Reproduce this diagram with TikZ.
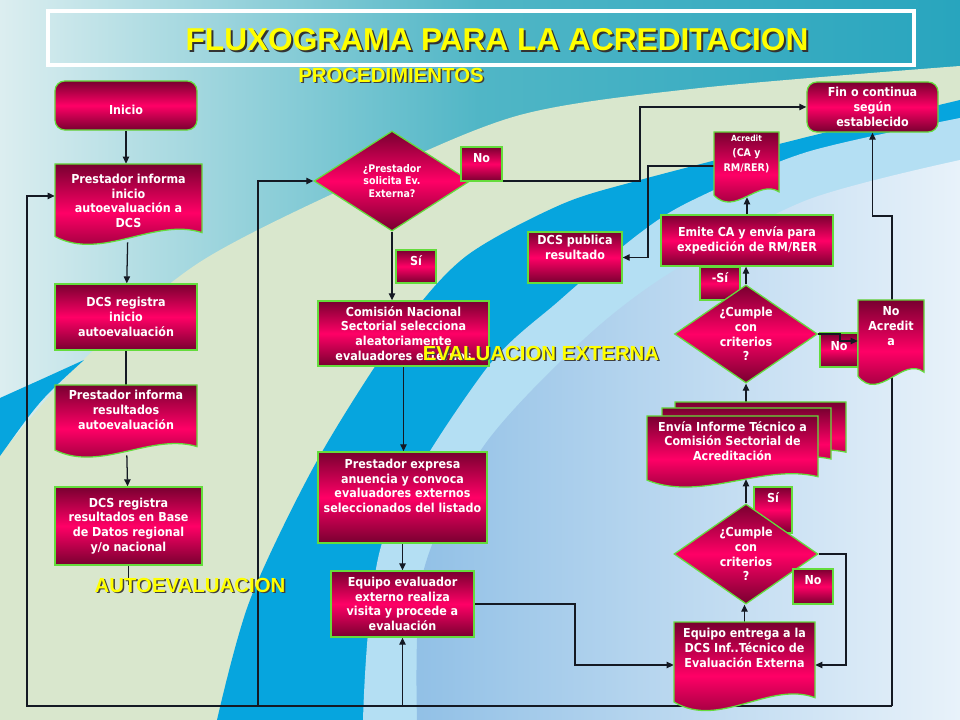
\documentclass[tikz,border=0pt]{standalone}
\usepackage{fontspec}
\setmainfont{DejaVu Sans Condensed}
\newfontfamily\headfamily{Liberation Sans}
\usetikzlibrary{shapes.geometric,arrows.meta,calc}

\definecolor{boxdark}{RGB}{120,0,48}
\definecolor{boxpink}{RGB}{255,0,102}
\definecolor{boxline}{RGB}{100,220,60}
\definecolor{linecol}{RGB}{20,25,35}
\definecolor{ttlyellow}{RGB}{255,255,0}
\definecolor{bgwhite}{RGB}{220,238,240}
\definecolor{bgteal}{RGB}{80,182,198}
\definecolor{bgteal2}{RGB}{40,165,190}
\definecolor{bggreen}{RGB}{217,231,205}
\definecolor{bgblue}{RGB}{6,165,222}
\definecolor{bglight}{RGB}{180,223,243}
\definecolor{bginner}{RGB}{145,192,230}
\definecolor{bgpale}{RGB}{232,242,250}

\newcommand{\bxfont}{\bfseries\fontsize{8.8}{10.5}\selectfont}
\newcommand{\smallbx}{\bfseries\fontsize{7.5}{9}\selectfont}
\newcommand{\ttlfont}{\headfamily\bfseries\fontsize{22.5}{26}\selectfont}
\newcommand{\sectfont}{\headfamily\bfseries\fontsize{14.5}{17}\selectfont}

\pgfdeclarelayer{bg}
\pgfdeclarelayer{lines}
\pgfsetlayers{bg,lines,main}

% document shape: x0 y0 x1 y1 (pixels)
\newcommand{\docshape}[4]{%
  \shadedraw[docfill] (#1,#2) -- (#3,#2) -- (#3,{#4-0.12*(#4-#2)})
    .. controls ({#1+0.68*(#3-#1)},{#4-0.32*(#4-#2)}) and ({#1+0.32*(#3-#1)},{#4+0.25*(#4-#2)})
    .. (#1,{#4-0.07*(#4-#2)}) -- cycle;}
% named document box: name, x0, y0, x1, y1, text y, text
\newcommand{\docbox}[7]{%
  \docshape{#2}{#3}{#4}{#5}
  \node[docarea, minimum width={(#4-#2)*0.025cm}, minimum height={(#5-#3)*0.025cm}] (#1) at ({(#2+#4)/2},{(#3+#5)/2}) {};
  \node[boxtext] (#1t) at ({(#2+#4)/2},#6) {#7};}

\begin{document}
\begin{tikzpicture}[x=0.025cm, y=-0.025cm,
    box/.style={draw=boxline, line width=0.9pt, top color=boxdark, bottom color=boxdark, middle color=boxpink, text=white, align=center, inner sep=1pt, font=\bxfont},
    docfill/.style={draw=boxline, line width=0.9pt, top color=boxdark, bottom color=boxdark, middle color=boxpink},
    docarea/.style={rectangle, draw=none, inner sep=0pt},
    boxtext/.style={text=white, align=center, inner sep=0pt, font=\bxfont},
    decision/.style={box, diamond, inner sep=0pt},
    tag/.style={box, text depth=9pt},
    ln/.style={draw=linecol, line width=0.9pt},
    arr/.style={ln, -{Triangle[length=5pt,width=4.5pt]}},
    sect/.style={font=\sectfont, text=ttlyellow, inner sep=0pt},
    sectsh/.style={font=\sectfont, text=black!75, inner sep=0pt}]
  \useasboundingbox (0,0) rectangle (960,720);

  \begin{pgfonlayer}{bg}
    \shade[left color=bgwhite, right color=bgteal2, middle color=bgteal] (0,0) rectangle (960,720);
    \fill[bggreen] plot[smooth] coordinates {(0,455) (80,363) (200,262) (367,178) (520,115) (700,88) (960,66)} -- (960,720) -- (0,720) -- cycle;
    \fill[bgblue] (0,398) .. controls (40,380) .. (84,360) .. controls (40,400) .. (0,456) -- cycle;
    \fill[bgblue] plot[smooth] coordinates {(217,720) (250,600) (318,459) (400,330) (465,257) (560,205) (640,180) (807,137) (960,100)} -- (960,720) -- cycle;
    \fill[bglight] plot[smooth] coordinates {(363,720) (383,540) (483,373) (560,300) (640,233) (693,200) (807,152) (960,118)} -- (960,720) -- cycle;
    \shade[left color=bginner, right color=bgpale] plot[smooth] coordinates {(417,720) (423,573) (483,447) (583,340) (670,273) (807,200) (960,160)} -- (960,720) -- cycle;
    \draw[white, line width=2.2pt] (48,11) rectangle (914,65);  % title frame
  \end{pgfonlayer}

  % autoevaluacion
  \node[box, rounded corners=7pt, minimum width=3.55cm, minimum height=1.225cm] (ini) at (126,105.5) {\mbox{}\\[2pt]Inicio};
  \docbox{pi1}{55}{164}{202}{242}{201}{Prestador informa\\inicio\\autoevaluación a\\DCS}
  \node[box, minimum width=3.55cm, minimum height=1.65cm] (dr1) at (126,317) {DCS registra\\inicio\\autoevaluación};
  \docbox{pi2}{55}{385}{197}{455}{410}{Prestador informa\\resultados\\autoevaluación}
  \node[box, minimum width=3.675cm, minimum height=1.95cm] (dr2) at (128.5,526) {DCS registra\\resultados en Base\\de Datos regional\\y/o nacional};

  % evaluacion externa
  \node[decision, aspect=1.56, font=\smallbx, minimum width=3.9cm, minimum height=2.5cm] (d1) at (392,181) {¿Prestador\\solicita Ev.\\Externa?};
  \node[tag, minimum width=1.025cm, minimum height=0.85cm] (no1) at (481.5,164) {No};
  \node[tag, minimum width=1cm, minimum height=0.825cm] (si1) at (416,266.5) {Sí};
  \node[box, minimum width=4.275cm, minimum height=1.625cm] (cn) at (403.5,333.5) {Comisión Nacional\\Sectorial selecciona\\aleatoriamente\\evaluadores externos};
  \node[box, minimum width=4.225cm, minimum height=2.275cm] (pe) at (402.5,497.5) {Prestador expresa\\anuencia y convoca\\evaluadores externos\\seleccionados del listado\\[6pt]\mbox{}};
  \node[box, minimum width=3.575cm, minimum height=1.65cm] (ee) at (402.5,604) {Equipo evaluador\\externo realiza\\visita y procede a\\evaluación};
  \docbox{ent}{674}{622}{815}{708}{648}{Equipo entrega a la\\DCS Inf..Técnico de\\Evaluación Externa}
  \node[tag, text depth=18pt, minimum width=0.95cm, minimum height=1.15cm] (si3) at (773,510) {Sí};
  \node[decision, aspect=1.44, minimum width=3.6cm, minimum height=2.5cm] (d3) at (746,554) {¿Cumple\\con\\criterios\\?};
  \node[tag, minimum width=1cm, minimum height=0.875cm] (no3) at (813,586.5) {No};
  \docshape{675}{402}{846}{459}
  \docshape{662}{408}{831}{466}
  \docbox{env}{647}{416}{818}{485}{441}{Envía Informe Técnico a\\Comisión Sectorial de\\Acreditación}
  \node[tag, minimum width=1cm, minimum height=0.825cm] (si2) at (720,283.5) {-Sí};
  \node[decision, aspect=1.46, minimum width=3.575cm, minimum height=2.45cm] (d2) at (746,334) {¿Cumple\\con\\criterios\\?};
  \node[tag, text depth=5pt, minimum width=0.95cm, minimum height=0.85cm] (no2) at (839,350) {No};
  \docbox{na}{858}{300}{924}{382}{326}{No\\Acredit\\a}
  \node[box, minimum width=4.3cm, minimum height=1.275cm] (em) at (747,240.5) {Emite CA y envía para\\expedición de RM/RER};
  \docbox{ac}{714}{132}{779}{200}{154}{{\fontsize{6}{8}\selectfont Acredit}\\{\fontsize{7.5}{8.5}\selectfont (CA y}\\{\fontsize{7.5}{8.5}\selectfont RM/RER)}}
  \node[box, minimum width=2.35cm, minimum height=1.275cm] (dp) at (575,257.5) {DCS publica\\resultado\\[4pt]\mbox{}};
  \node[box, rounded corners=7pt, minimum width=3.275cm, minimum height=1.25cm] (fin) at (872.5,107) {Fin o continua\\según\\establecido};

  % titles
  \node[font=\ttlfont, text=black!80, inner sep=0pt] (ttls) at (499,42) {FLUXOGRAMA PARA LA ACREDITACION};
  \node[font=\ttlfont, text=ttlyellow, inner sep=0pt] (ttl) at (497,40) {FLUXOGRAMA PARA LA ACREDITACION};
  \node[sectsh] (procs) at (392.5,76.5) {PROCEDIMIENTOS};
  \node[sect] (proc) at (391,75) {PROCEDIMIENTOS};

  % corners of the long return lines
  \coordinate (bl) at (27,706);
  \coordinate (br) at (892,706);
  \coordinate (b2) at (258,706);
  \coordinate (k1) at (892,216);
  \coordinate (k2) at (640,181);
  \coordinate (k3) at (575,604);
  \coordinate (k4) at (846,554);
  \coordinate (k5) at (840,334);
  \coordinate (k6) at (648,166);
  \coordinate (k7) at (746,402);  % top of the stacked reports

  \begin{pgfonlayer}{lines}
    \draw[arr] (ini.south) -- (ini.south |- pi1.north);
    \draw[arr] (pi1) -- (dr1);
    \draw[ln] (dr1) -- (pi2);
    \draw[arr] (pi2) -- (dr2);
    \draw[ln] (dr2.south) -- (dr2.south |- 0,585);
    \draw[arr] (br) -- (bl) |- ([yshift=5pt]pi1.west);
    \draw[arr] (b2) |- (d1.west);
    \draw[arr] (ee.south |- bl) -- (ee.south);
    \draw[arr] (br) -- (k1) -| (fin.south);
    \draw[arr] (d1.south) -- (d1.south |- cn.north);
    \draw[arr] (d1.east) -- (k2) |- (fin.west);
    \draw[arr] (cn.south) -- (cn.south |- pe.north);
    \draw[arr] (pe) -- (ee);
    \draw[arr] (ee.east) -- (k3) |- (ent.west);
    \draw[arr] (ent.north) -- (ent.north |- d3.south);
    \draw[arr] (d3.east) -- (k4) |- (ent.east);
    \draw[arr] (d3.north) -- ($(env.south -| d3.north)+(0,-6)$);
    \draw[arr] (k7) -- (d2.south);
    \draw[arr] (d2.north) -- (d2.north |- em.south);
    \draw[arr] (em.north) -- ($(ac.south -| em.north)+(0,-3)$);
    \draw[arr] (ac.west) -- (k6) |- (dp.east);
  \end{pgfonlayer}
  \draw[arr] (d2.east) -- (k5) |- (na.west);

  % section labels
  \node[sectsh] (aes) at (191.5,586.5) {AUTOEVALUACION};
  \node[sect] (ae) at (190,585) {AUTOEVALUACION};
  \node[sectsh] (exs) at (542.5,354.5) {EVALUACION EXTERNA};
  \node[sect] (ex) at (541,353) {EVALUACION EXTERNA};
\end{tikzpicture}
\end{document}
